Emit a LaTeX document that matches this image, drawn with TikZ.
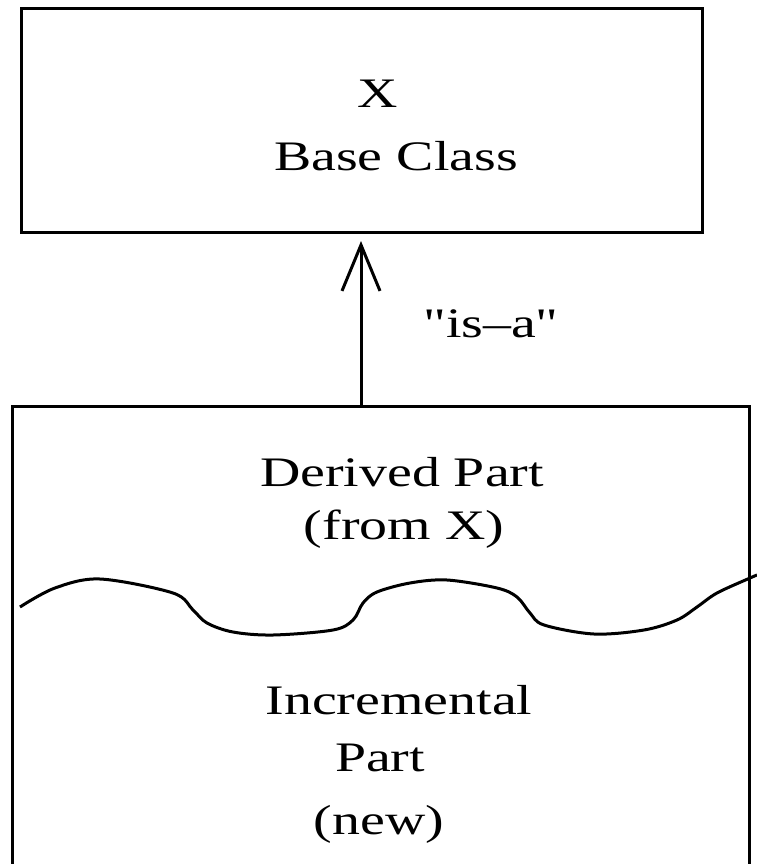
\documentclass[tikz,border=0pt]{standalone}
\usepackage{graphicx}
\usepackage{fontspec}
\setmainfont{Liberation Serif}
\usetikzlibrary{arrows.meta}
% wide serif lettering
\newcommand{\widetext}[1]{\scalebox{1.33}[1]{#1}}
\begin{document}
\begin{tikzpicture}[x=1pt,y=-1pt,
  box/.style={draw,line width=3pt},
  lbl/.style={anchor=base,inner sep=0pt,font=\fontsize{42}{50}\selectfont},
  isa/.style={line width=3pt,-{Straight Barb[length=46pt,width=38pt,line width=3pt]},shorten >=9pt}]
\useasboundingbox (0,0) rectangle (757,864);
% base class box
\draw[box] (21,9) rectangle (702,232);
\coordinate (topbottom) at (361,232);
% derived class box, open at the bottom
\draw[box] (12,870) -- (12,406) -- (749,406) -- (749,870);
\coordinate (bottomtop) at (361,406);
\node[lbl] (x) at (378,107) {\widetext{X}};
\node[lbl] (base) at (396,170) {\widetext{Base Class}};
\node[lbl] (isalbl) at (491,337) {\widetext{\textquotedbl is–a\textquotedbl}};
\node[lbl] (derived) at (402,486) {\widetext{Derived Part}};
\node[lbl] (fromx) at (404,539) {\widetext{(from X)}};
\node[lbl] (incr) at (399,714) {\widetext{Incremental}};
\node[lbl] (part) at (380,771) {\widetext{Part}};
\node[lbl] (new) at (379,834) {\widetext{(new)}};
\draw[isa] (bottomtop) -- (topbottom);
% boundary between the inherited and the new part
\draw[line width=3pt,line join=round] plot[smooth,tension=0.55] coordinates {
  (20,607) (55,588) (100,579) (173,593) (193,610) (207,623) (233,632)
  (273,635) (333,630) (353,620) (363,603) (377,592) (410,583) (447,580)
  (497,588) (517,597) (530,613) (544,625) (594,634) (644,630) (677,620)
  (697,607) (717,593) (750,578) (757,575)};
\end{tikzpicture}
\end{document}
